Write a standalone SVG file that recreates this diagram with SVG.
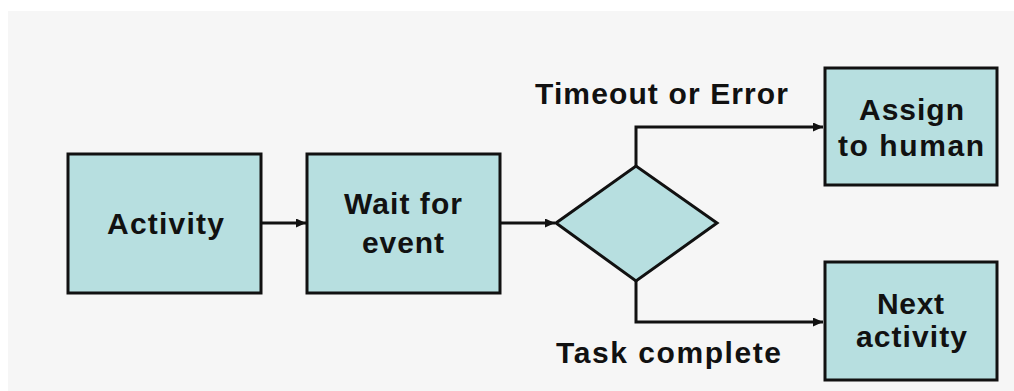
<svg xmlns="http://www.w3.org/2000/svg" width="1014" height="391" viewBox="0 0 1014 391">
<style>
.node{fill:#b7dfe0;stroke:#111;stroke-width:3}
.lbl{font-family:"Liberation Sans",Arial,sans-serif;font-weight:bold;font-size:30px;fill:#111}
.conn{fill:none;stroke:#111;stroke-width:3}
</style>
<defs>
<marker id="arr" markerUnits="userSpaceOnUse" markerWidth="10" markerHeight="9" refX="10" refY="4.5" orient="auto">
<path d="M0,0 L10,4.5 L0,9 z" fill="#111"/>
</marker>
</defs>
<rect x="0" y="0" width="1014" height="391" fill="#ffffff"/>
<rect x="8" y="11" width="1006" height="380" fill="#f6f6f6"/>
<g id="connectors">
<path class="conn" d="M262,223 H306" marker-end="url(#arr)"/>
<path class="conn" d="M501,223 H555" marker-end="url(#arr)"/>
<path class="conn" d="M636,166 V127 H823" marker-end="url(#arr)"/>
<path class="conn" d="M636,281 V322 H823" marker-end="url(#arr)"/>
</g>
<g id="activity">
<rect class="node" x="68" y="154" width="193" height="139"/>
<text class="lbl" x="107" y="234" textLength="117" lengthAdjust="spacing">Activity</text>
</g>
<g id="wait">
<rect class="node" x="307" y="154" width="193" height="139"/>
<text class="lbl" x="344" y="214" textLength="118" lengthAdjust="spacing">Wait for</text>
<text class="lbl" x="362" y="253" textLength="82" lengthAdjust="spacing">event</text>
</g>
<g id="decision">
<polygon class="node" points="556,223 636,166 717,223 636,281"/>
</g>
<g id="assign">
<rect class="node" x="825" y="68" width="172" height="117"/>
<text class="lbl" x="859" y="120" textLength="105" lengthAdjust="spacing">Assign</text>
<text class="lbl" x="838" y="156" textLength="146" lengthAdjust="spacing">to human</text>
</g>
<g id="next">
<rect class="node" x="825" y="262" width="172" height="118"/>
<text class="lbl" x="877" y="314" textLength="67" lengthAdjust="spacing">Next</text>
<text class="lbl" x="856" y="347" textLength="111" lengthAdjust="spacing">activity</text>
</g>
<g id="labels">
<text class="lbl" x="535" y="104" textLength="253" lengthAdjust="spacing">Timeout or Error</text>
<text class="lbl" x="556" y="363" textLength="225" lengthAdjust="spacing">Task complete</text>
</g>
</svg>
